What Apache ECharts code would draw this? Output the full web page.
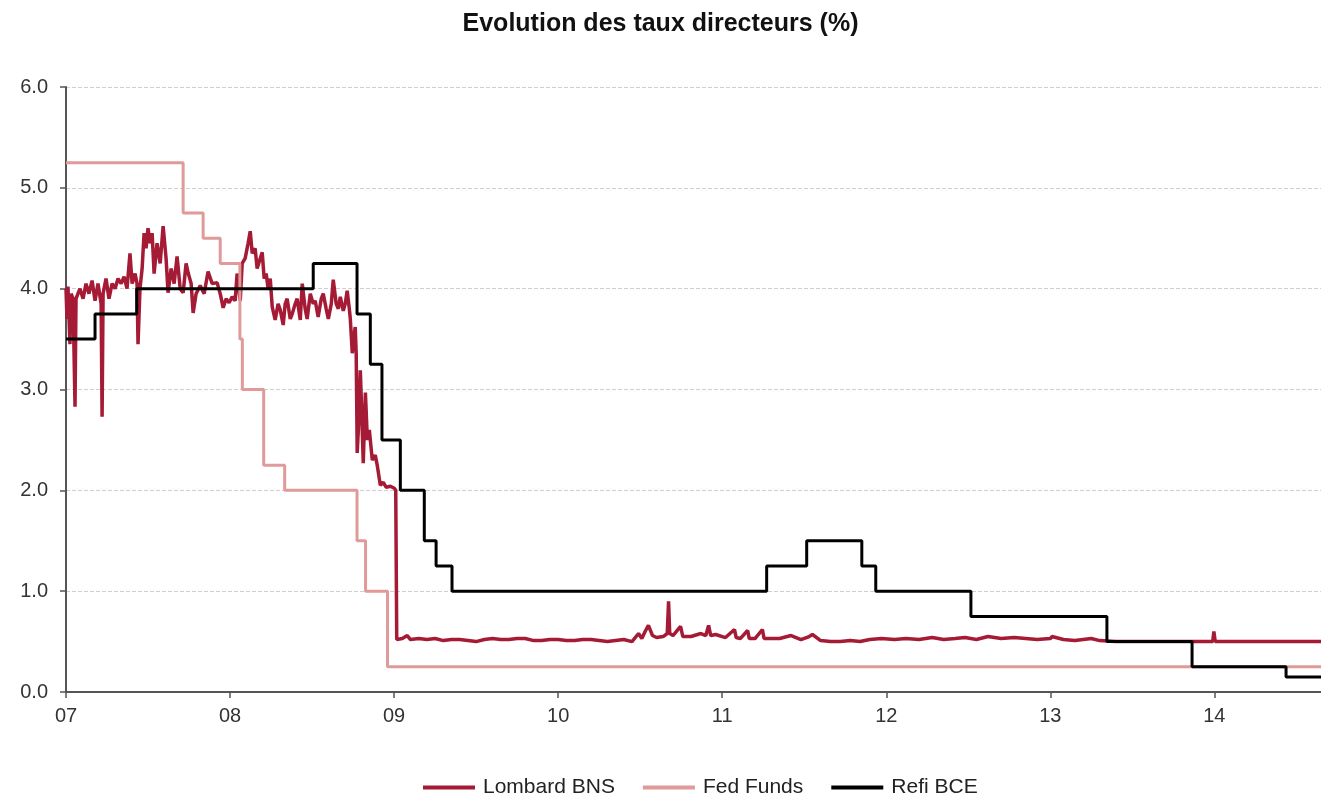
<!DOCTYPE html>
<html>
<head>
<meta charset="utf-8">
<title>Evolution des taux directeurs</title>
<script src="https://cdn.jsdelivr.net/npm/echarts@6/dist/echarts.min.js"></script>
<style>
  html, body { margin: 0; padding: 0; background: #fff; }
  #chart { width: 1321px; height: 796px; }
</style>
</head>
<body>
<div id="chart"></div>
<script>
// années en décimal (7 = 2007)
var yearTicks = ['07', '08', '09', '10', '11', '12', '13', '14'];

// Lombard BNS (données journalières)
var lombardX = [
  7.000, 7.006, 7.012, 7.024, 7.031, 7.043, 7.055, 7.061, 7.073, 7.085,
  7.104, 7.122, 7.140, 7.159, 7.177, 7.195, 7.214, 7.220, 7.226, 7.244,
  7.262, 7.281, 7.299, 7.317, 7.336, 7.354, 7.372, 7.390, 7.403, 7.421,
  7.433, 7.439, 7.451, 7.464, 7.476, 7.488, 7.500, 7.513, 7.525, 7.537,
  7.555, 7.574, 7.592, 7.610, 7.622, 7.641, 7.659, 7.677, 7.696, 7.714,
  7.732, 7.744, 7.763, 7.775, 7.793, 7.818, 7.842, 7.866, 7.891, 7.921,
  7.940, 7.958, 7.976, 7.994, 8.013, 8.031, 8.043, 8.062, 8.074, 8.092,
  8.110, 8.123, 8.135, 8.153, 8.165, 8.184, 8.196, 8.208, 8.220, 8.232,
  8.245, 8.257, 8.275, 8.293, 8.306, 8.324, 8.336, 8.348, 8.367, 8.379,
  8.397, 8.409, 8.428, 8.440, 8.458, 8.470, 8.489, 8.507, 8.519, 8.537,
  8.556, 8.568, 8.586, 8.599, 8.617, 8.629, 8.647, 8.660, 8.672, 8.690,
  8.702, 8.714, 8.727, 8.733, 8.745, 8.757, 8.763, 8.769, 8.775, 8.782,
  8.794, 8.800, 8.812, 8.825, 8.837, 8.849, 8.867, 8.885, 8.897, 8.916,
  8.934, 8.952, 8.977, 9.001, 9.010, 9.016, 9.050, 9.080, 9.100, 9.150,
  9.200, 9.250, 9.300, 9.350, 9.400, 9.450, 9.500, 9.550, 9.600, 9.650,
  9.700, 9.750, 9.800, 9.850, 9.900, 9.950, 10.000, 10.050, 10.100, 10.150,
  10.200, 10.250, 10.300, 10.350, 10.400, 10.450, 10.490, 10.510, 10.530, 10.550,
  10.575, 10.600, 10.640, 10.665, 10.673, 10.680, 10.700, 10.746, 10.760, 10.810,
  10.870, 10.900, 10.917, 10.930, 10.960, 11.020, 11.075, 11.085, 11.110, 11.155,
  11.165, 11.200, 11.245, 11.255, 11.300, 11.350, 11.420, 11.480, 11.530, 11.550,
  11.600, 11.660, 11.720, 11.780, 11.840, 11.900, 11.970, 12.050, 12.120, 12.200,
  12.280, 12.350, 12.420, 12.480, 12.550, 12.620, 12.700, 12.780, 12.850, 12.920,
  13.000, 13.010, 13.080, 13.150, 13.250, 13.300, 13.400, 13.500, 13.600, 13.700,
  13.800, 13.900, 13.990, 13.997, 14.005, 14.200, 14.400, 14.650
];
var lombardY = [
  4.00, 3.70, 4.02, 3.45, 3.95, 3.90, 2.83, 3.90, 3.95, 4.00,
  3.90, 4.05, 3.95, 4.08, 3.88, 4.05, 3.85, 2.73, 3.95, 4.10,
  3.90, 4.05, 4.00, 4.10, 4.05, 4.12, 4.00, 4.35, 4.05, 4.15,
  4.05, 3.45, 4.00, 4.20, 4.55, 4.40, 4.60, 4.45, 4.55, 4.15,
  4.45, 4.25, 4.62, 4.30, 3.96, 4.20, 4.05, 4.32, 4.00, 3.96,
  4.25, 4.16, 4.05, 3.76, 3.95, 4.03, 3.95, 4.17, 4.05, 4.06,
  3.95, 3.81, 3.90, 3.86, 3.92, 3.88, 4.15, 3.88, 4.25, 4.30,
  4.45, 4.57, 4.35, 4.40, 4.20, 4.30, 4.36, 4.10, 4.15, 4.00,
  4.10, 3.82, 3.69, 3.85, 3.79, 3.64, 3.85, 3.90, 3.70, 3.75,
  3.85, 3.90, 3.69, 4.05, 3.80, 3.70, 3.95, 3.85, 3.88, 3.72,
  3.90, 3.95, 3.80, 3.70, 3.85, 4.09, 3.85, 3.80, 3.92, 3.78,
  3.85, 3.98, 3.80, 3.70, 3.36, 3.55, 3.62, 3.35, 2.37, 2.60,
  3.19, 2.90, 2.27, 2.97, 2.50, 2.60, 2.30, 2.35, 2.25, 2.05,
  2.08, 2.03, 2.04, 2.02, 2.00, 0.52, 0.53, 0.56, 0.52, 0.53,
  0.52, 0.53, 0.51, 0.52, 0.52, 0.51, 0.50, 0.52, 0.53, 0.52,
  0.52, 0.53, 0.53, 0.51, 0.51, 0.52, 0.52, 0.51, 0.51, 0.52,
  0.52, 0.51, 0.50, 0.51, 0.52, 0.50, 0.58, 0.53, 0.60, 0.66,
  0.56, 0.54, 0.55, 0.58, 0.90, 0.58, 0.56, 0.65, 0.55, 0.55,
  0.58, 0.56, 0.66, 0.56, 0.57, 0.54, 0.62, 0.54, 0.53, 0.61,
  0.53, 0.53, 0.62, 0.53, 0.53, 0.53, 0.56, 0.52, 0.55, 0.57,
  0.51, 0.50, 0.50, 0.51, 0.50, 0.52, 0.53, 0.52, 0.53, 0.52,
  0.54, 0.52, 0.53, 0.54, 0.52, 0.55, 0.53, 0.54, 0.53, 0.52,
  0.53, 0.55, 0.52, 0.51, 0.53, 0.51, 0.50, 0.50, 0.50, 0.50,
  0.50, 0.50, 0.50, 0.60, 0.50, 0.50, 0.50, 0.50
];

// Fed Funds : date du changement, nouveau taux
var fedX = [7.000, 7.714, 7.836, 7.940, 8.060, 8.075, 8.205, 8.333, 8.774, 8.826, 8.960, 14.650];
var fedY = [5.25, 4.75, 4.50, 4.25, 3.50, 3.00, 2.25, 2.00, 1.50, 1.00, 0.25, 0.25];

// Refi BCE
var refiX = [7.000, 7.177, 7.431, 8.507, 8.774, 8.855, 8.926, 9.038, 9.184, 9.256, 9.353,
             11.271, 11.515, 11.851, 11.936, 12.516, 13.345, 13.864, 14.437, 14.650];
var refiY = [3.50, 3.75, 4.00, 4.25, 3.75, 3.25, 2.50, 2.00, 1.50, 1.25, 1.00,
             1.25, 1.50, 1.25, 1.00, 0.75, 0.50, 0.25, 0.15, 0.15];

function zip(xs, ys) {
  return xs.map(function (x, i) { return [x, ys[i]]; });
}

var chart = echarts.init(document.getElementById('chart'));
var font = '"Liberation Sans", Arial, sans-serif';

chart.setOption({
  animation: false,
  textStyle: { fontFamily: font },
  title: {
    text: 'Evolution des taux directeurs (%)',
    left: 'center',
    top: 7,
    textStyle: { fontFamily: font, fontSize: 25, fontWeight: 'bold', color: '#111' }
  },
  legend: {
    top: 772,
    left: 418,
    itemWidth: 52,
    itemHeight: 4,
    itemGap: 28,
    icon: 'rect',
    textStyle: { fontFamily: font, fontSize: 21, color: '#222', padding: [0, 0, 0, 3] },
    data: ['Lombard BNS', 'Fed Funds', 'Refi BCE']
  },
  grid: { left: 66, right: 0, top: 87, bottom: 104 },
  xAxis: {
    type: 'value',
    min: 7,
    max: 14.65,
    interval: 1,
    axisLine: { lineStyle: { color: '#555', width: 2 } },
    axisTick: { show: true, length: 6, lineStyle: { color: '#555', width: 1.5 } },
    splitLine: { show: false },
    axisLabel: {
      fontSize: 20, color: '#333', margin: 14, showMaxLabel: false,
      formatter: function (v) { return yearTicks[Math.round(v) - 7] || ''; }
    }
  },
  yAxis: {
    type: 'value',
    min: 0,
    max: 6,
    interval: 1,
    axisLine: { show: true, lineStyle: { color: '#555', width: 2 } },
    axisTick: { show: true, length: 6, lineStyle: { color: '#555', width: 1.5 } },
    splitLine: { lineStyle: { color: '#cfcfcf', type: 'dashed', width: 1 } },
    axisLabel: {
      fontSize: 20, color: '#333', margin: 18,
      formatter: function (v) { return v.toFixed(1); }
    }
  },
  series: [
    {
      name: 'Lombard BNS',
      type: 'line',
      data: zip(lombardX, lombardY),
      showSymbol: false,
      color: '#A51A35',
      lineStyle: { width: 3.5, color: '#A51A35' }
    },
    {
      name: 'Fed Funds',
      type: 'line',
      step: 'end',
      data: zip(fedX, fedY),
      showSymbol: false,
      color: '#E09A9A',
      lineStyle: { width: 3, color: '#E09A9A' }
    },
    {
      name: 'Refi BCE',
      type: 'line',
      step: 'end',
      data: zip(refiX, refiY),
      showSymbol: false,
      color: '#000',
      lineStyle: { width: 3, color: '#000' }
    }
  ]
});
</script>
</body>
</html>
